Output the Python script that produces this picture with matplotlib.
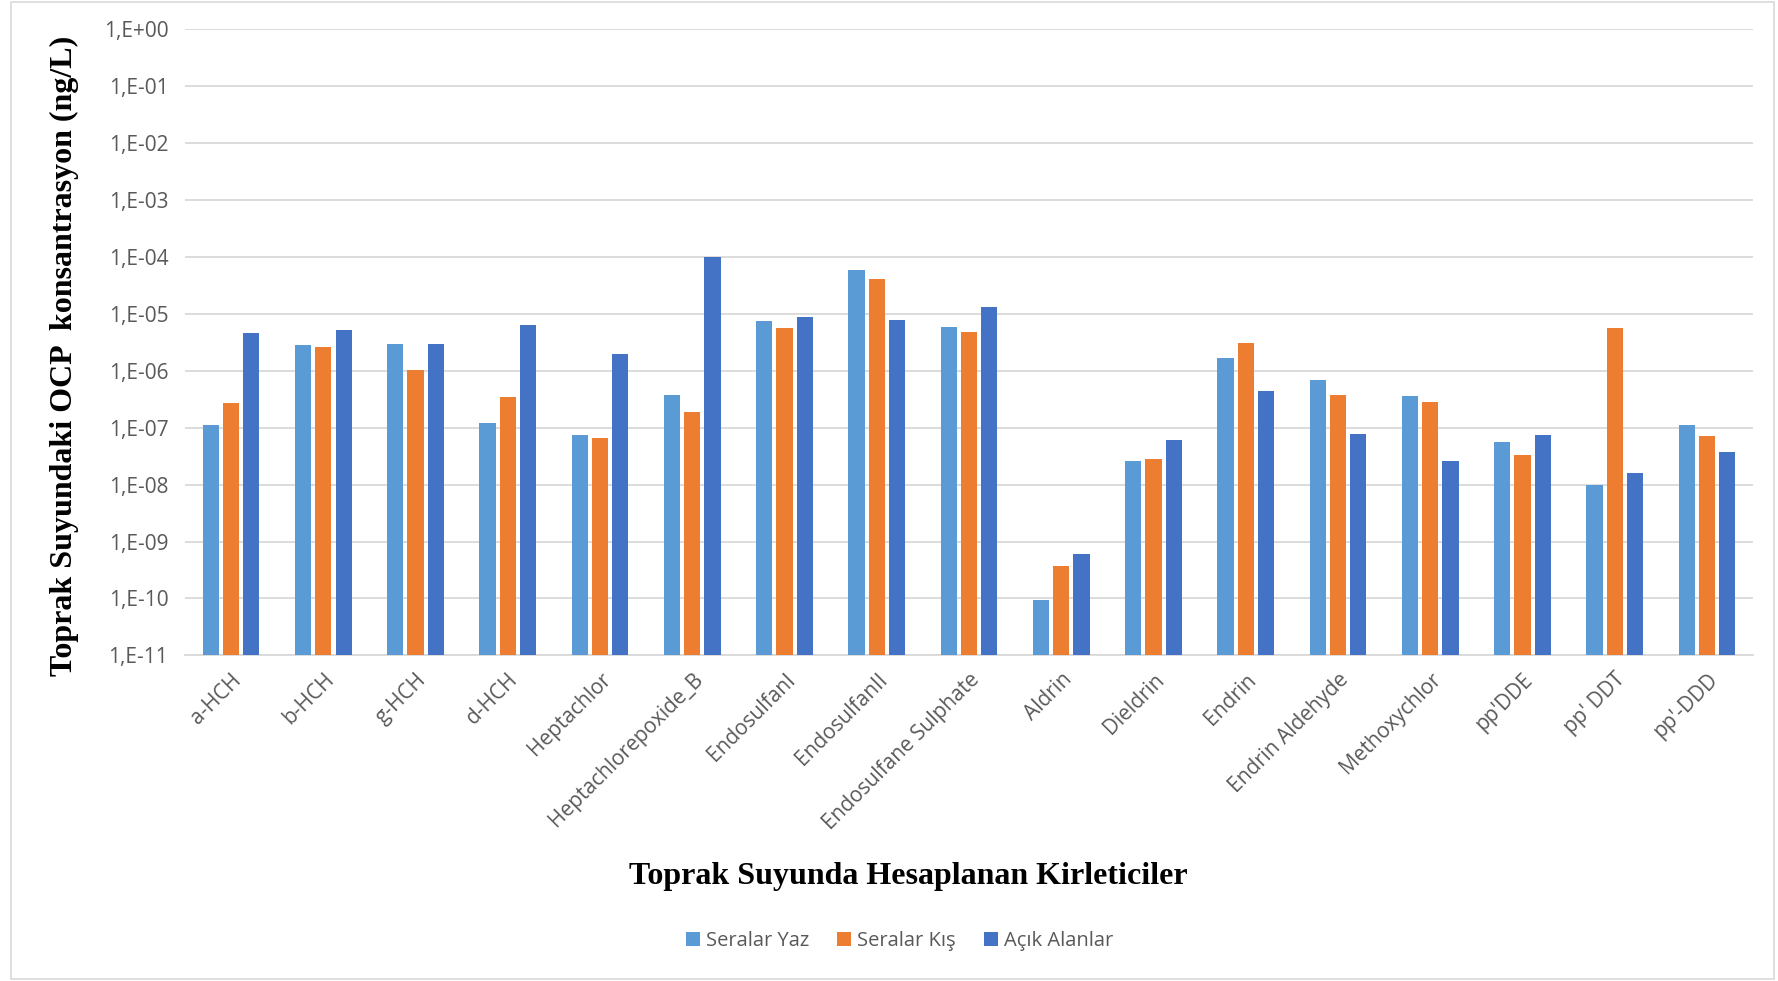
import numpy as np
import matplotlib
matplotlib.use("Agg")
import matplotlib.pyplot as plt
from matplotlib.patches import Rectangle

compounds = ["a-HCH", "b-HCH", "g-HCH", "d-HCH", "Heptachlor", "Heptachlorepoxide_B",
             "EndosulfanI", "EndosulfanII", "Endosulfane Sulphate", "Aldrin", "Dieldrin",
             "Endrin", "Endrin Aldehyde", "Methoxychlor", "pp'DDE", "pp' DDT", "pp'-DDD"]

seralar_yaz = [1.12e-7, 2.9e-6, 2.95e-6, 1.2e-7, 7.4e-8, 3.8e-7, 7.4e-6, 5.9e-5, 6.0e-6,
               9.3e-11, 2.65e-8, 1.66e-6, 6.8e-7, 3.6e-7, 5.6e-8, 1.0e-8, 1.12e-7]
seralar_kis = [2.7e-7, 2.57e-6, 1.02e-6, 3.5e-7, 6.6e-8, 1.86e-7, 5.6e-6, 4.05e-5, 4.9e-6,
               3.7e-10, 2.8e-8, 3.1e-6, 3.7e-7, 2.8e-7, 3.3e-8, 5.6e-6, 7.2e-8]
acik_alanlar = [4.7e-6, 5.3e-6, 3.0e-6, 6.4e-6, 2.0e-6, 1.0e-4, 8.9e-6, 7.7e-6, 1.35e-5,
                6.0e-10, 6.0e-8, 4.36e-7, 7.8e-8, 2.65e-8, 7.3e-8, 1.63e-8, 3.7e-8]

series = [("Seralar Yaz", seralar_yaz, "#5B9BD5"),
          ("Seralar Kış", seralar_kis, "#ED7D31"),
          ("Açık Alanlar", acik_alanlar, "#4472C4")]

tick_font = "Open Sans"
gray = "#595959"

fig = plt.figure(figsize=(17.78, 9.81), dpi=100)
ax = fig.add_axes([0.104, 0.332, 0.882, 0.638])

x = np.arange(len(compounds))
bottom = 1e-11
for i, (name, vals, col) in enumerate(series):
    vals = np.array(vals)
    ax.bar(x + (i - 1) * 0.22, vals - bottom, bottom=bottom, width=0.175,
           color=col, label=name, zorder=3)

ax.set_yscale("log")
ax.set_ylim(1e-11, 1e0)
ax.set_xlim(-0.5, len(compounds) - 0.5)

yt = [10.0 ** k for k in range(-11, 1)]
ax.set_yticks(yt)
ax.set_yticklabels(["1,E+00" if k == 0 else "1,E-%02d" % -k for k in range(-11, 1)],
                   fontfamily=tick_font, fontsize=15, color=gray)
ax.yaxis.set_minor_locator(matplotlib.ticker.NullLocator())
ax.grid(axis="y", color="#d9d9d9", linewidth=1.3, zorder=0)
ax.tick_params(axis="y", length=0, pad=12)
ax.tick_params(axis="x", length=0, pad=10)

ax.set_xticks(x)
ax.set_xticklabels(compounds, rotation=45, ha="right", va="top", rotation_mode="anchor",
                   fontfamily=tick_font, fontsize=15, color=gray)

for s in ["top", "right", "left"]:
    ax.spines[s].set_visible(False)
ax.spines["bottom"].set_color("#d9d9d9")
ax.spines["bottom"].set_linewidth(1.3)

fig.text(0.036, 0.637, "Toprak Suyundaki OCP  konsantrasyon (ng/L)", rotation=90,
         ha="center", va="center", fontfamily="Liberation Serif", fontweight="bold",
         fontsize=23)
fig.text(0.511, 0.107, "Toprak Suyunda Hesaplanan Kirleticiler", ha="center", va="center",
         fontfamily="Liberation Serif", fontweight="bold", fontsize=23)

leg = fig.legend(loc="center", bbox_to_anchor=(0.506, 0.041), ncol=3, frameon=False,
                 prop={"family": tick_font, "size": 14.5}, handlelength=0.7,
                 handleheight=0.7, handletextpad=0.3, columnspacing=1.4)
for t in leg.get_texts():
    t.set_color(gray)

fig.patches.append(Rectangle((0.006, 0.002), 0.992, 0.996, transform=fig.transFigure,
                             fill=False, edgecolor="#d9d9d9", linewidth=1.2))

fig.savefig("out.png", dpi=100)
